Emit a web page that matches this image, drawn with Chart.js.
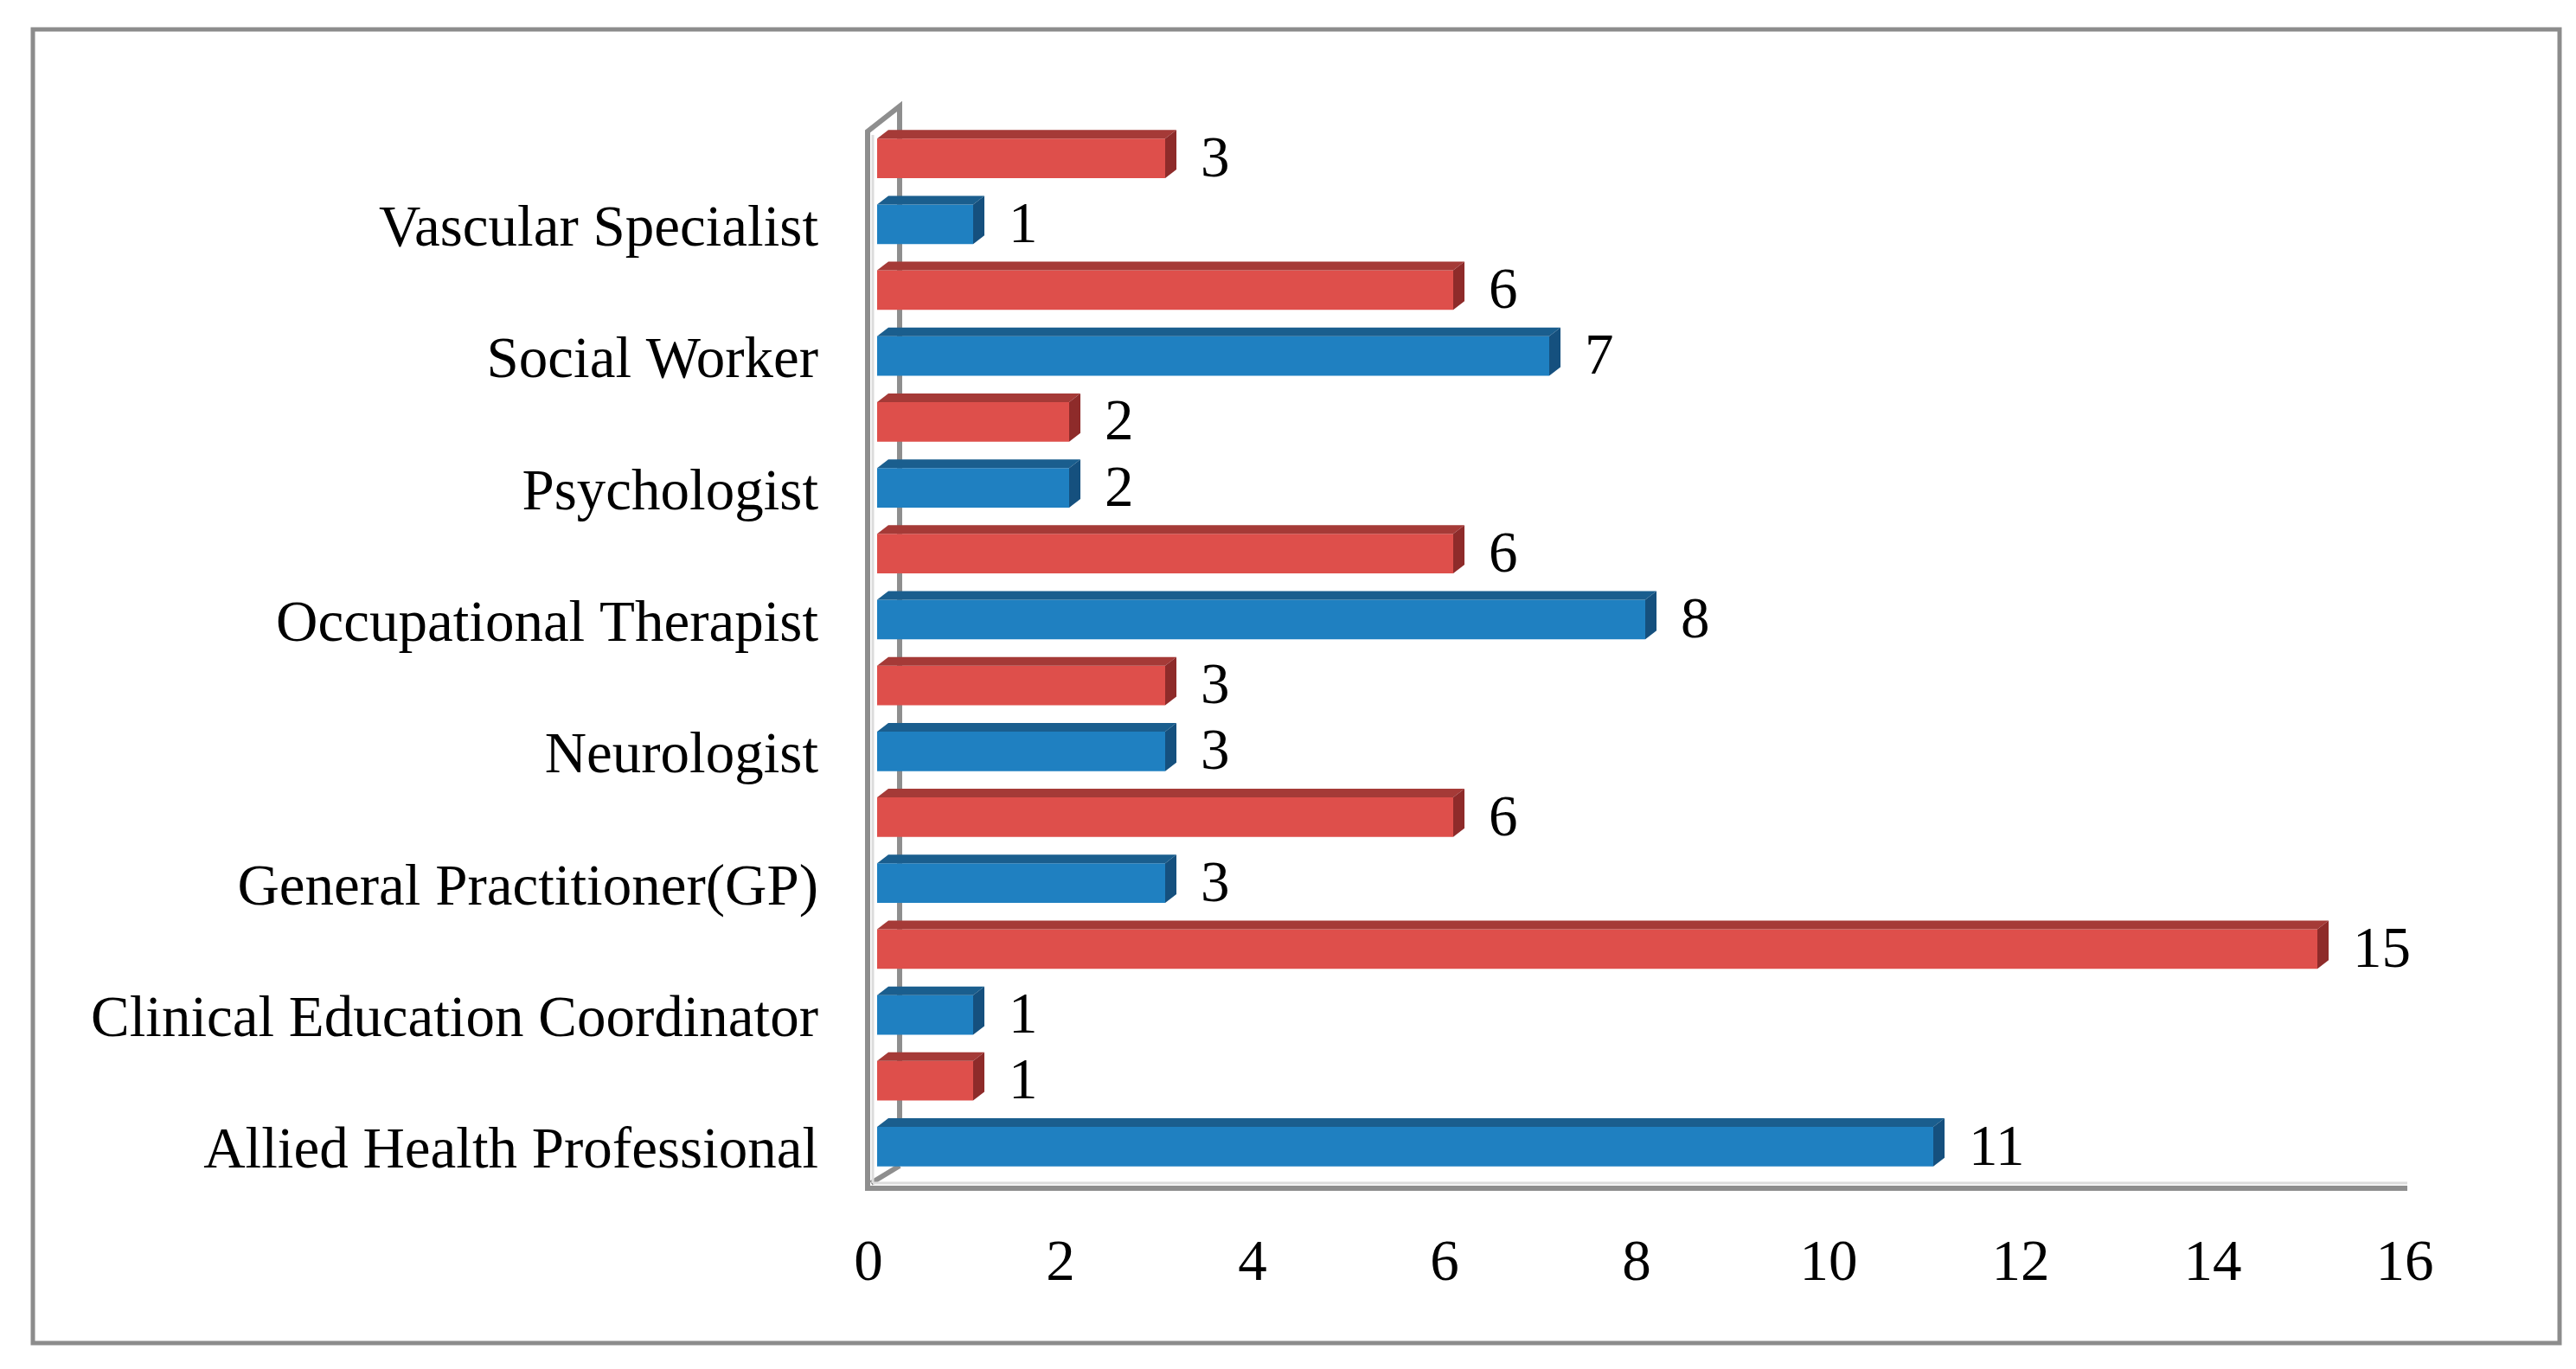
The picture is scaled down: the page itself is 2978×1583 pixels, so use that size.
<!DOCTYPE html>
<html>
<head>
<meta charset="utf-8">
<script src="https://cdn.jsdelivr.net/npm/chart.js@4/dist/chart.umd.min.js"></script>
<style>
  html, body { margin: 0; padding: 0; background: #fff; }
  #wrap { width: 2978px; height: 1583px; position: relative; }
</style>
</head>
<body>
<div id="wrap"><canvas id="staffChart"></canvas></div>
<script>
// data (bottom category first)
const categories = [
    'Allied Health Professional',
    'Clinical Education Coordinator',
    'General Practitioner(GP)',
    'Neurologist',
    'Occupational Therapist',
    'Psychologist',
    'Social Worker',
    'Vascular Specialist'
];
const blueValues = [11, 1, 3, 3, 8, 2, 7, 1];
const redValues = [1, 15, 6, 3, 6, 2, 6, 3];
const xTicks = [0, 2, 4, 6, 8, 10, 12, 14, 16];

const FONT = '"Liberation Serif", "Times New Roman", serif';
const DX = 13, DY = -10; // bar depth

const shades = {
    blue: { front: '#1f80c1', top: '#1a5e8e', side: '#15507e' },
    red: { front: '#de4f4b', top: '#a53a37', side: '#8e2b2a' }
};

// frame + 3D walls behind the bars
const wallsPlugin = {
    id: 'walls',
    beforeDatasetsDraw(chart) {
        const ctx = chart.ctx, a = chart.chartArea;
        ctx.save();
        ctx.strokeStyle = '#8c8c8c';
        ctx.lineWidth = 5;
        ctx.strokeRect(38, 34, 2921, 1519);

        const fx = a.left - 11, bx = a.left + 26;
        const topF = a.top + 7, topB = a.top - 22;
        const floorF = a.bottom + 10, floorB = a.bottom - 16;
        ctx.lineWidth = 6;
        ctx.strokeStyle = '#8e8e8e';
        ctx.beginPath();
        ctx.moveTo(bx, floorB);
        ctx.lineTo(bx, topB);
        ctx.lineTo(fx, topF);
        ctx.lineTo(fx, floorF);
        ctx.lineTo(a.right - 7, floorF);
        ctx.moveTo(fx + 4, floorF - 6);
        ctx.lineTo(bx, floorB);
        ctx.stroke();
        ctx.strokeStyle = '#dcdcdc';
        ctx.lineWidth = 3;
        ctx.beginPath();
        ctx.moveTo(fx + 6, floorF - 6);
        ctx.lineTo(a.right - 7, floorF - 6);
        ctx.moveTo(fx + 6, topF + 4);
        ctx.lineTo(fx + 6, floorF - 6);
        ctx.stroke();
        ctx.restore();
    }
};

// top/side faces and value labels
const barsPlugin = {
    id: 'bars3d',
    afterDatasetsDraw(chart) {
        const ctx = chart.ctx;
        ctx.save();
        chart.data.datasets.forEach((ds, di) => {
            const meta = chart.getDatasetMeta(di);
            const c = shades[ds.shade];
            meta.data.forEach((bar, i) => {
                const p = bar.getProps(['x', 'y', 'base', 'height'], true);
                const top = p.y - p.height / 2, bottom = p.y + p.height / 2;
                ctx.fillStyle = c.top;
                ctx.beginPath();
                ctx.moveTo(p.base, top);
                ctx.lineTo(p.x, top);
                ctx.lineTo(p.x + DX, top + DY);
                ctx.lineTo(p.base + DX, top + DY);
                ctx.closePath();
                ctx.fill();
                ctx.fillStyle = c.side;
                ctx.beginPath();
                ctx.moveTo(p.x, top);
                ctx.lineTo(p.x + DX, top + DY);
                ctx.lineTo(p.x + DX, bottom + DY);
                ctx.lineTo(p.x, bottom);
                ctx.closePath();
                ctx.fill();

                ctx.fillStyle = '#000';
                ctx.font = '67px ' + FONT;
                ctx.textAlign = 'left';
                ctx.textBaseline = 'middle';
                ctx.fillText(ds.data[i], p.x + DX + 28, p.y + 3);
            });
        });
        ctx.restore();
    }
};

new Chart(document.getElementById('staffChart').getContext('2d'), {
    type: 'bar',
    data: {
        labels: categories,
        // red listed first so that it sits above the blue bar in each group
        datasets: [{
            label: 'Series 2',
            shade: 'red',
            data: redValues,
            backgroundColor: shades.red.front,
            categoryPercentage: 1,
            barPercentage: 0.6
        }, {
            label: 'Series 1',
            shade: 'blue',
            data: blueValues,
            backgroundColor: shades.blue.front,
            categoryPercentage: 1,
            barPercentage: 0.6
        }]
    },
    options: {
        indexAxis: 'y',
        responsive: true,
        maintainAspectRatio: false,
        animation: false,
        devicePixelRatio: 1,
        layout: { padding: { top: 145, right: 188, bottom: 0, left: 0 } },
        plugins: {
            legend: { display: false },
            tooltip: { enabled: false }
        },
        scales: {
            x: {
                min: 0,
                max: 16,
                afterBuildTicks(scale) {
                    scale.ticks = xTicks.map(v => ({ value: v }));
                },
                afterFit(scale) { scale.height = 219; },
                grid: { display: false, drawTicks: false },
                border: { display: false },
                ticks: {
                    color: '#000',
                    padding: 58,
                    labelOffset: -10,
                    font: { family: FONT, size: 67 }
                }
            },
            y: {
                reverse: true,
                afterFit(scale) { scale.width = 1014; },
                grid: { display: false, drawTicks: false },
                border: { display: false },
                ticks: {
                    color: '#000',
                    padding: 68,
                    labelOffset: 45,
                    font: { family: FONT, size: 67 }
                }
            }
        }
    },
    plugins: [wallsPlugin, barsPlugin]
});
</script>
</body>
</html>
